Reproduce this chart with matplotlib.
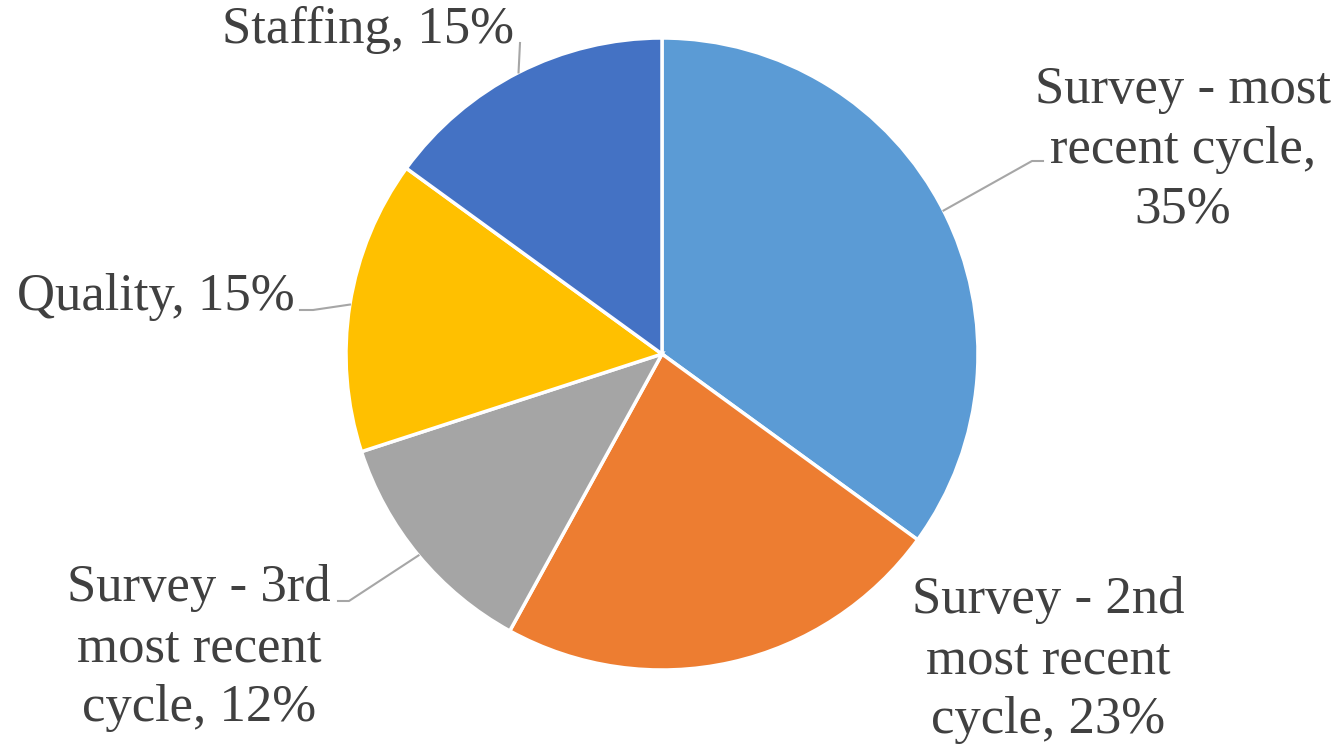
import matplotlib
matplotlib.use("Agg")
import matplotlib.pyplot as plt
import numpy as np

categories = ["Survey - most\nrecent cycle,\n35%",
              "Survey - 2nd\nmost recent\ncycle, 23%",
              "Survey - 3rd\nmost recent\ncycle, 12%",
              "Quality, 15%",
              "Staffing, 15%"]
values = [35, 23, 12, 15, 15]
colors = ["#5B9BD5", "#ED7D31", "#A5A5A5", "#FFC000", "#4472C4"]

W, H = 1332, 749
fig = plt.figure(figsize=(W / 100, H / 100), dpi=100)
ax = fig.add_axes([0, 0, 1, 1])

cx, cy, R = 662, H - 354, 316
wedges, _ = ax.pie(values, colors=colors, startangle=90, counterclock=False,
                   center=(cx, cy), radius=R,
                   wedgeprops=dict(edgecolor="white", linewidth=2.5))
ax.set_xlim(0, W)
ax.set_ylim(0, H)
ax.set_aspect("equal")
ax.axis("off")

# label positions (centre of text block, top-based pixel coords) and leader elbows
label_pos = [(1183, 150), (1048, 660), (199, 648), (156, 297), (368, 30)]
leaders = [[(1032, 161), (1043, 161)],
           None,
           [(349, 601), (338, 601)],
           [(313, 310), (300, 310)],
           [(520, 43)]]

font = dict(family="Liberation Serif", size=38, color="#404040")
for w, lab, (lx, ly), ld in zip(wedges, categories, label_pos, leaders):
    ax.text(lx, H - ly, lab, ha="center", va="center", linespacing=1.32, **font)
    if ld:
        ang = np.deg2rad((w.theta1 + w.theta2) / 2)
        x0, y0 = cx + R * np.cos(ang), cy + R * np.sin(ang)
        xs = [x0] + [p[0] for p in ld]
        ys = [y0] + [H - p[1] for p in ld]
        ax.plot(xs, ys, color="#A6A6A6", lw=1.5)

fig.savefig("out.png", dpi=100, facecolor="white")
